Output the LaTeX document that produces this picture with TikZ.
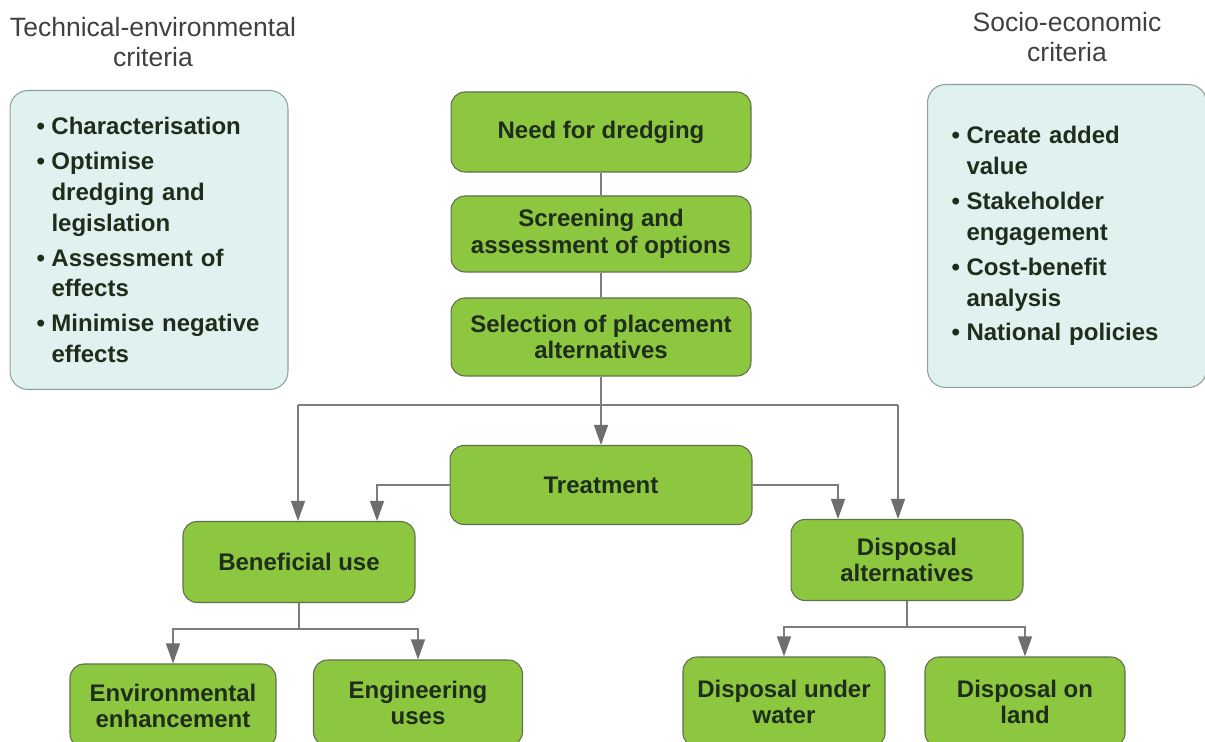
\documentclass[tikz,border=0pt]{standalone}
\usepackage{xcolor}
\usepackage{fontspec}
\setmainfont{Liberation Sans}
\usepackage{tikz}
\usetikzlibrary{arrows.meta}
\definecolor{stagegreen}{HTML}{8DC63F}
\definecolor{stageline}{HTML}{5E6E4E}
\definecolor{critfill}{HTML}{E0F2EF}
\definecolor{critline}{HTML}{8E9E9C}
\definecolor{linkgray}{HTML}{7D7D7D}
\definecolor{tipgray}{HTML}{6E6E6E}
\definecolor{textdark}{HTML}{1F2D1C}
\newcommand{\critem}[1]{\makebox[0.3cm][l]{\textbullet}#1}
\newcommand{\critcont}[1]{\hspace*{0.3cm}#1}

\begin{document}
\begin{tikzpicture}[x=0.02cm,y=-0.02cm,
    stage/.style={draw=stageline,line width=0.6pt,fill=stagegreen,rounded corners=0.28cm,
      align=center,text=textdark,inner sep=0pt,
      font=\fontsize{13.66pt}{15.1pt}\selectfont\bfseries},
    crit/.style={draw=critline,line width=0.6pt,fill=critfill,rounded corners=0.36cm,
      align=left,text=textdark,inner sep=0pt,
      font=\fontsize{13.66pt}{17.6pt}\selectfont\bfseries},
    heading/.style={align=center,text=black!75,font=\fontsize{15.1pt}{17pt}\selectfont},
    link/.style={draw=linkgray,line width=0.8pt},
    flow/.style={link,-{Triangle[length=0.4cm,width=0.28cm,color=tipgray]}}]
    \useasboundingbox (0,0) rectangle (1205,742);

    \node[heading] (techhead) at (153,42) {Technical-environmental\\criteria};
    \node[heading] (sochead) at (1067,37) {Socio-economic\\criteria};

    \node[crit,minimum width=5.56cm,minimum height=5.98cm,text width=4.5cm] (techcrit) at (149,240) {%
      \critem{Characterisation}\\[0.08cm]
      \critem{Optimise}\\
      \critcont{dredging and}\\
      \critcont{legislation}\\[0.08cm]
      \critem{Assessment of}\\
      \critcont{effects}\\[0.08cm]
      \critem{Minimise negative}\\
      \critcont{effects}};
    \node[crit,minimum width=5.58cm,minimum height=6.06cm,text width=4.62cm] (soccrit) at (1067,236) {%
      \critem{Create added}\\
      \critcont{value}\\[0.08cm]
      \critem{Stakeholder}\\
      \critcont{engagement}\\[0.08cm]
      \critem{Cost-benefit}\\
      \critcont{analysis}\\[0.08cm]
      \critem{National policies}};

    \node[stage,minimum width=6cm,minimum height=1.6cm] (need) at (601,132) {Need for dredging};
    \node[stage,minimum width=6cm,minimum height=1.52cm] (screen) at (601,234) {Screening and\\assessment of options};
    \node[stage,minimum width=6cm,minimum height=1.56cm] (select) at (601,337) {Selection of placement\\alternatives};
    \node[stage,minimum width=6.04cm,minimum height=1.58cm] (treat) at (601,485) {Treatment};
    \node[stage,minimum width=4.64cm,minimum height=1.62cm] (benef) at (299,562) {Beneficial use};
    \node[stage,minimum width=4.64cm,minimum height=1.62cm] (dispalt) at (907,560) {Disposal\\alternatives};
    \node[stage,minimum width=4.12cm,minimum height=1.68cm] (envenh) at (173,706) {Environmental\\enhancement};
    \node[stage,minimum width=4.18cm,minimum height=1.72cm] (enguse) at (418,703) {Engineering\\uses};
    \node[stage,minimum width=4.04cm,minimum height=1.8cm] (underwater) at (784,702) {Disposal under\\water};
    \node[stage,minimum width=4cm,minimum height=1.8cm] (onland) at (1025,702) {Disposal on\\land};

    \draw[link] (need) -- (screen);
    \draw[link] (screen) -- (select);
    \draw[flow] (select) -- (treat);
    \coordinate (splitL) at (298,405);
    \coordinate (splitR) at (898,405);
    \draw[link] (splitL) -- (splitR);
    \draw[flow] (splitL) -- (splitL |- benef.north);
    \draw[flow] (splitR) -- (splitR |- dispalt.north);
    \coordinate (treatL) at (377,485);
    \coordinate (treatR) at (838,485);
    \draw[flow] (treat.west) -| (treatL |- benef.north);
    \draw[flow] (treat.east) -| (treatR |- dispalt.north);
    \coordinate (benefsplit) at (299,629);
    \draw[link] (benef) -- (benefsplit);
    \draw[flow] (benefsplit) -| (envenh.north);
    \draw[flow] (benefsplit) -| (enguse.north);
    \coordinate (dispsplit) at (907,627);
    \draw[link] (dispalt) -- (dispsplit);
    \draw[flow] (dispsplit) -| (underwater.north);
    \draw[flow] (dispsplit) -| (onland.north);
  \end{tikzpicture}
\end{document}
